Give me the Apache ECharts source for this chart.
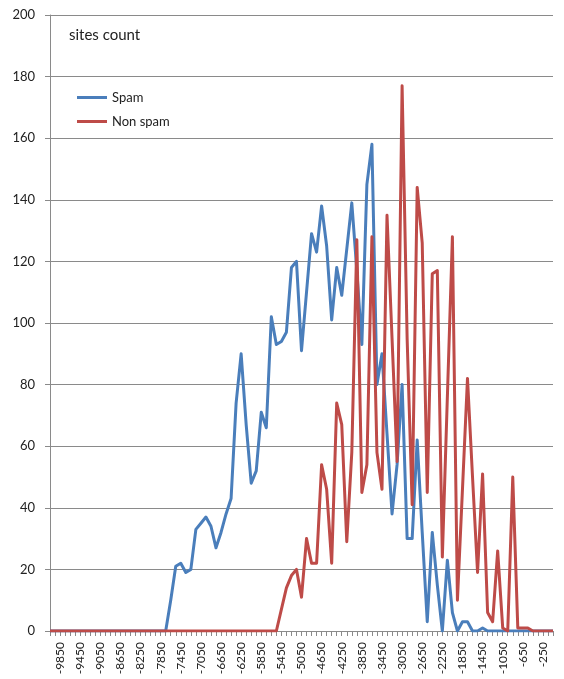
<!DOCTYPE html>
<html>
<head>
<meta charset="utf-8">
<script src="https://cdn.jsdelivr.net/npm/echarts@6/dist/echarts.min.js"></script>
<style>
  html, body { margin: 0; padding: 0; background: #fff; }
  #chart { width: 564px; height: 679px; }
</style>
</head>
<body>
<div id="chart"></div>
<script>
// Score bins (bin centres), step 100
const categories = [
  '-10050','-9950','-9850','-9750','-9650','-9550','-9450','-9350','-9250','-9150',
  '-9050','-8950','-8850','-8750','-8650','-8550','-8450','-8350','-8250','-8150',
  '-8050','-7950','-7850','-7750','-7650','-7550','-7450','-7350','-7250','-7150',
  '-7050','-6950','-6850','-6750','-6650','-6550','-6450','-6350','-6250','-6150',
  '-6050','-5950','-5850','-5750','-5650','-5550','-5450','-5350','-5250','-5150',
  '-5050','-4950','-4850','-4750','-4650','-4550','-4450','-4350','-4250','-4150',
  '-4050','-3950','-3850','-3750','-3650','-3550','-3450','-3350','-3250','-3150',
  '-3050','-2950','-2850','-2750','-2650','-2550','-2450','-2350','-2250','-2150',
  '-2050','-1950','-1850','-1750','-1650','-1550','-1450','-1350','-1250','-1150',
  '-1050','-950','-850','-750','-650','-550','-450','-350','-250','-150',
  '-50'
];

// Sites per bin
const spam = [
  0, 0, 0, 0, 0, 0, 0, 0, 0, 0,
  0, 0, 0, 0, 0, 0, 0, 0, 0, 0,
  0, 0, 0, 0, 10, 21, 22, 19, 20, 33,
  35, 37, 34, 27, 32, 38, 43, 74, 90, 67,
  48, 52, 71, 66, 102, 93, 94, 97, 118, 120,
  91, 110, 129, 123, 138, 125, 101, 118, 109, 124,
  139, 117, 93, 145, 158, 80, 90, 64, 38, 54,
  80, 30, 30, 62, 32, 3, 32, 15, 0, 23,
  6, 0, 3, 3, 0, 0, 1, 0, 0, 0,
  0, 0, 0, 0, 0, 0, 0, 0, 0, 0,
  0
];

const nonSpam = [
  0, 0, 0, 0, 0, 0, 0, 0, 0, 0,
  0, 0, 0, 0, 0, 0, 0, 0, 0, 0,
  0, 0, 0, 0, 0, 0, 0, 0, 0, 0,
  0, 0, 0, 0, 0, 0, 0, 0, 0, 0,
  0, 0, 0, 0, 0, 0, 7, 14, 18, 20,
  11, 30, 22, 22, 54, 46, 22, 74, 67, 29,
  58, 127, 45, 54, 128, 58, 46, 135, 95, 55,
  177, 95, 41, 144, 126, 45, 116, 117, 24, 76,
  128, 10, 46, 82, 50, 19, 51, 6, 3, 26,
  1, 0, 50, 1, 1, 1, 0, 0, 0, 0,
  0
];

// Value axis ticks
const yMin = 0;
const yMax = 200;
const yStep = 20;

const font = 'Lato, "Open Sans", sans-serif';
const axisGray = '#8a8a8a';

const chart = echarts.init(document.getElementById('chart'));
chart.setOption({
  animation: false,
  backgroundColor: '#fff',
  title: {
    text: 'sites count',
    left: 64,
    top: 23,
    textStyle: { fontFamily: font, fontSize: 15, fontWeight: 'normal', color: '#222' }
  },
  legend: {
    data: ['Spam', 'Non spam'],
    orient: 'vertical',
    left: 72,
    top: 86,
    icon: 'rect',
    itemWidth: 30,
    itemHeight: 3,
    itemGap: 11,
    textStyle: { fontFamily: font, fontSize: 13, color: '#222' }
  },
  grid: { left: 50, right: 11, top: 15, bottom: 48, containLabel: false },
  xAxis: {
    type: 'category',
    data: categories,
    boundaryGap: false,
    axisLine: { lineStyle: { color: axisGray, width: 1 } },
    axisTick: { show: true, interval: 0, length: 5, lineStyle: { color: axisGray } },
    axisLabel: {
      interval: (i) => i % 4 === 2,
      rotate: 90,
      margin: 11,
      fontFamily: font,
      fontSize: 12,
      color: '#222'
    },
    splitLine: { show: false }
  },
  yAxis: {
    type: 'value',
    min: yMin,
    max: yMax,
    interval: yStep,
    axisLine: { show: true, lineStyle: { color: axisGray, width: 1 } },
    axisTick: { show: true, length: 5, lineStyle: { color: axisGray } },
    axisLabel: { margin: 15, fontFamily: font, fontSize: 13, color: '#222' },
    splitLine: { show: true, lineStyle: { color: axisGray, width: 1 } }
  },
  series: [
    {
      name: 'Spam',
      type: 'line',
      data: spam,
      symbol: 'none',
      color: '#4A7EBB',
      lineStyle: { width: 3, color: '#4A7EBB', join: 'round' }
    },
    {
      name: 'Non spam',
      type: 'line',
      data: nonSpam,
      symbol: 'none',
      color: '#BE4B48',
      lineStyle: { width: 3, color: '#BE4B48', join: 'round' }
    }
  ]
});
</script>
</body>
</html>
